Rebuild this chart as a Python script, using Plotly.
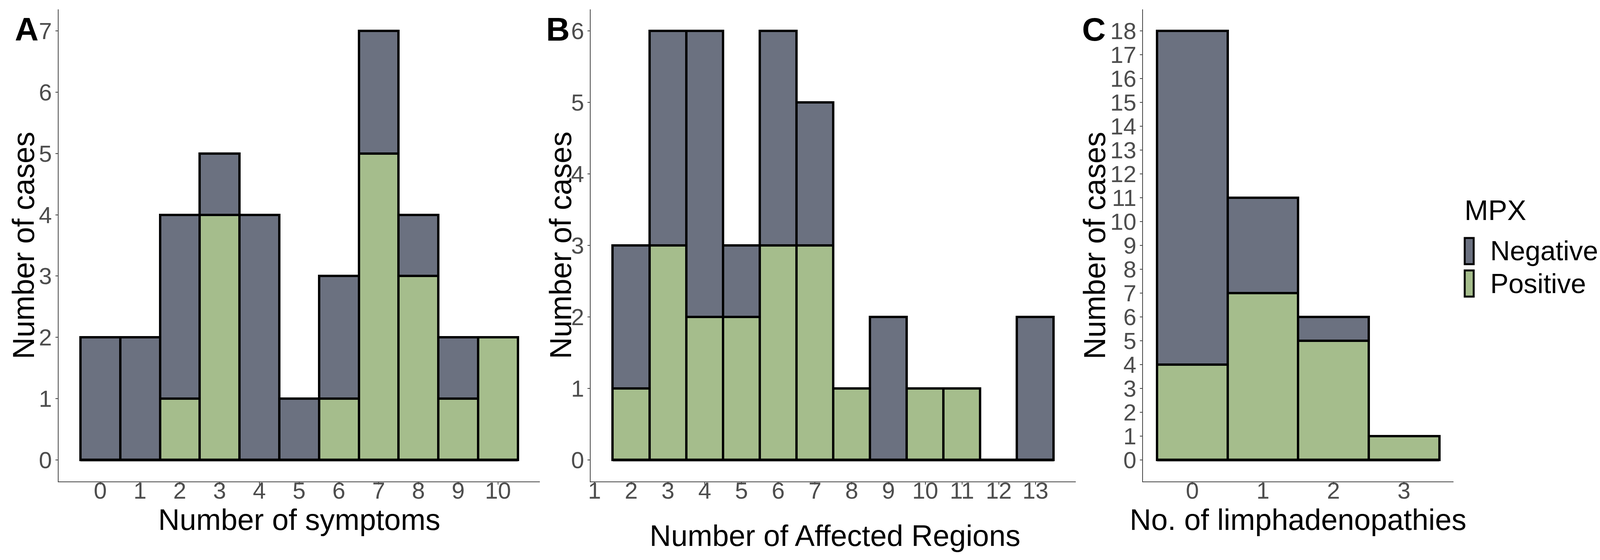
import plotly.graph_objects as go

# ---------------- data ----------------
symptoms = [0, 1, 2, 3, 4, 5, 6, 7, 8, 9, 10]
symptoms_neg = [2, 2, 3, 1, 4, 1, 2, 2, 1, 1, 0]
symptoms_pos = [0, 0, 1, 4, 0, 0, 1, 5, 3, 1, 2]
symptoms_xticks = [0, 1, 2, 3, 4, 5, 6, 7, 8, 9, 10]
symptoms_yticks = [0, 1, 2, 3, 4, 5, 6, 7]

regions = [2, 3, 4, 5, 6, 7, 8, 9, 10, 11, 12, 13]
regions_neg = [2, 3, 4, 1, 3, 2, 0, 2, 0, 0, 0, 2]
regions_pos = [1, 3, 2, 2, 3, 3, 1, 0, 1, 1, 0, 0]
regions_xticks = [1, 2, 3, 4, 5, 6, 7, 8, 9, 10, 11, 12, 13]
regions_yticks = [0, 1, 2, 3, 4, 5, 6]

lymph = [0, 1, 2, 3]
lymph_neg = [14, 4, 1, 0]
lymph_pos = [4, 7, 5, 1]
lymph_xticks = [0, 1, 2, 3]
lymph_yticks = [0, 1, 2, 3, 4, 5, 6, 7, 8, 9, 10, 11, 12, 13, 14, 15, 16, 17, 18]

series_names = ["Negative", "Positive"]
panel_letters = ["A", "B", "C"]
x_titles = ["Number of symptoms", "Number of Affected Regions", "No. of limphadenopathies"]
y_title = "Number of cases"
legend_title = "MPX"

# ---------------- style ----------------
W, H = 4142, 1433
NEG_COLOR = "#6b7180"
POS_COLOR = "#a5bd8c"
FONT = "Liberation Sans, Arial, sans-serif"
TICK_COLOR = "#4d4d4d"
AXIS_COLOR = "#444444"

def px_x(v):
    return v / W

def px_y(v):
    return 1 - v / H

# plot areas in pixels (left, right)
x_domains_px = [(143, 1377), (1508, 2752), (2924, 3720)]
y_domain_px = (24, 1232)  # top, bottom

fig = go.Figure()

panels = [
    (symptoms, symptoms_neg, symptoms_pos, symptoms_xticks, symptoms_yticks),
    (regions, regions_neg, regions_pos, regions_xticks, regions_yticks),
    (lymph, lymph_neg, lymph_pos, lymph_xticks, lymph_yticks),
]

for i, (cats, neg, pos, xt, yt) in enumerate(panels):
    xa = "x" if i == 0 else f"x{i+1}"
    ya = "y" if i == 0 else f"y{i+1}"
    fig.add_trace(go.Bar(
        x=cats, y=pos, name=series_names[1], xaxis=xa, yaxis=ya,
        marker=dict(color=POS_COLOR, line=dict(color="black", width=6)),
        width=1, showlegend=False,
    ))
    fig.add_trace(go.Bar(
        x=cats, y=neg, name=series_names[0], xaxis=xa, yaxis=ya,
        marker=dict(color=NEG_COLOR, line=dict(color="black", width=6)),
        width=1, showlegend=False,
    ))
    # baseline of the histogram (outline of zero-count bins)
    fig.add_trace(go.Scatter(
        x=[cats[0] - 0.5, cats[-1] + 0.5], y=[0, 0], mode="lines",
        line=dict(color="black", width=7), xaxis=xa, yaxis=ya,
        showlegend=False, hoverinfo="skip",
    ))

    lo_x, hi_x = cats[0] - 0.5, cats[-1] + 0.5
    ex = (hi_x - lo_x) * 0.05
    ymax = max(n + p for n, p in zip(neg, pos))
    ey = ymax * 0.05
    dom = x_domains_px[i]
    axis_common = dict(
        showline=True, linecolor=AXIS_COLOR, linewidth=2,
        ticks="outside", ticklen=6, tickwidth=2, tickcolor=AXIS_COLOR,
        showgrid=False, zeroline=False,
        tickfont=dict(family=FONT, size=60, color=TICK_COLOR),
    )
    x_lo = min(lo_x - ex, xt[0] - 0.1)
    fig.layout[("xaxis" if i == 0 else f"xaxis{i+1}")] = dict(
        domain=[px_x(dom[0]), px_x(dom[1])],
        range=[x_lo, hi_x + ex],
        tickmode="array", tickvals=xt, ticktext=[str(v) for v in xt],
        ticklabelstandoff=-36,
        anchor=ya, **axis_common,
    )
    fig.layout[("yaxis" if i == 0 else f"yaxis{i+1}")] = dict(
        domain=[px_y(y_domain_px[1]), px_y(y_domain_px[0])],
        range=[-ey, ymax + ey],
        tickmode="array", tickvals=yt, ticktext=[str(v) for v in yt],
        ticklabelstandoff=-3,
        anchor=xa, **axis_common,
    )

annotations = []
# panel letters
letter_x = [62, 1424, 2798]
for lx, letter in zip(letter_x, panel_letters):
    annotations.append(dict(
        x=px_x(lx), y=px_y(75), xref="paper", yref="paper",
        text=f"<b>{letter}</b>", showarrow=False, xanchor="center", yanchor="middle",
        font=dict(family=FONT, size=84, color="black"),
    ))
# x titles
xt_x = [760, 2134, 3322]
xt_y = [1329, 1370, 1329]
for tx, ty, t in zip(xt_x, xt_y, x_titles):
    annotations.append(dict(
        x=px_x(tx), y=px_y(ty), xref="paper", yref="paper",
        text=t, showarrow=False, xanchor="center", yanchor="middle",
        font=dict(family=FONT, size=76, color="black"),
    ))
# y titles
yt_x = [53, 1430, 2800]
for tx in yt_x:
    annotations.append(dict(
        x=px_x(tx), y=px_y(628), xref="paper", yref="paper",
        text=y_title, showarrow=False, xanchor="center", yanchor="middle",
        textangle=-90, font=dict(family=FONT, size=77, color="black"),
    ))
# legend (title, keys, labels)
annotations.append(dict(
    x=px_x(3746), y=px_y(537), xref="paper", yref="paper",
    text=legend_title, showarrow=False, xanchor="left", yanchor="middle",
    font=dict(family=FONT, size=73, color="black"),
))
legend_rows = [(series_names[0], NEG_COLOR, 609, 676, 642),
               (series_names[1], POS_COLOR, 692, 759, 726)]
shapes = []
for name, col, y0, y1, yc in legend_rows:
    shapes.append(dict(
        type="rect", xref="paper", yref="paper",
        x0=px_x(3749), x1=px_x(3772), y0=px_y(y1), y1=px_y(y0),
        fillcolor=col, line=dict(color="black", width=5),
    ))
    annotations.append(dict(
        x=px_x(3812), y=px_y(yc), xref="paper", yref="paper",
        text=name, showarrow=False, xanchor="left", yanchor="middle",
        font=dict(family=FONT, size=70, color="black"),
    ))

fig.update_layout(
    width=W, height=H,
    margin=dict(l=0, r=0, t=0, b=0),
    paper_bgcolor="white", plot_bgcolor="white",
    barmode="stack", bargap=0,
    showlegend=False,
    annotations=annotations, shapes=shapes,
    font=dict(family=FONT),
)

fig.write_html(
    "out.html",
    config={"displayModeBar": False},
    post_script="document.body.style.margin='0px';document.documentElement.style.overflow='hidden';",
)
